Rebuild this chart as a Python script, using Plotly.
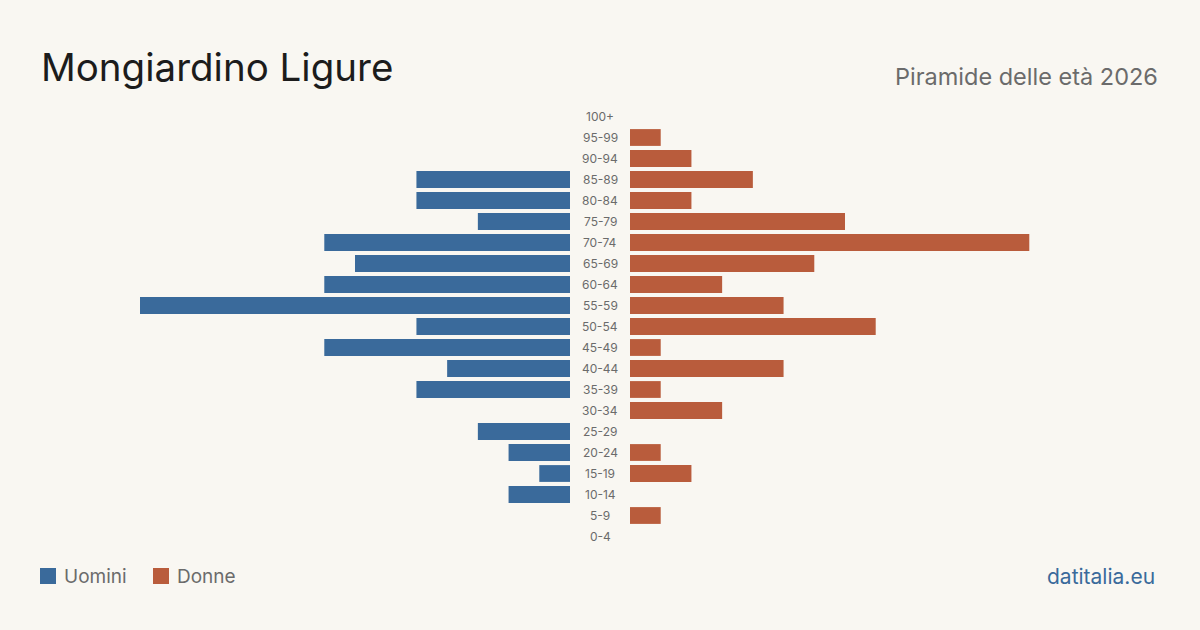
import plotly.graph_objects as go

ages = ["0-4", "5-9", "10-14", "15-19", "20-24", "25-29", "30-34", "35-39", "40-44", "45-49",
        "50-54", "55-59", "60-64", "65-69", "70-74", "75-79", "80-84", "85-89", "90-94", "95-99", "100+"]
uomini = [0, 0, 2, 1, 2, 3, 0, 5, 4, 8, 5, 14, 8, 7, 8, 3, 5, 5, 0, 0, 0]
donne = [0, 1, 0, 2, 1, 0, 3, 1, 5, 1, 8, 5, 3, 6, 13, 7, 2, 4, 2, 1, 0]

BLUE = "#3a6a9b"
RED = "#b95c3c"
BG = "#f9f7f2"
FONT = "Inter, Noto Sans, sans-serif"
W, H = 1200, 630

vmax = max(max(uomini), max(donne))

fig = go.Figure()
fig.add_trace(go.Bar(y=ages, x=uomini, orientation="h", marker=dict(color=BLUE, line=dict(width=0)),
                     name="Uomini", xaxis="x", yaxis="y", showlegend=False, hoverinfo="x+y"))
fig.add_trace(go.Bar(y=ages, x=donne, orientation="h", marker=dict(color=RED, line=dict(width=0)),
                     name="Donne", xaxis="x2", yaxis="y", showlegend=False, hoverinfo="x+y"))

y0 = 1 - 547 / H
y1 = 1 - 106 / H

annotations = []
for a in ages:
    annotations.append(dict(x=600 / W, y=a, xref="paper", yref="y", text=a, showarrow=False,
                            font=dict(family=FONT, size=12, color="#6b6b6b"), xanchor="center"))

annotations += [
    dict(x=39 / W, y=1 - 67 / H, xref="paper", yref="paper", text="Mongiardino Ligure", showarrow=False,
         xanchor="left", yanchor="middle", font=dict(family=FONT, size=38.5, color="#1c1c1c")),
    dict(x=1160 / W, y=1 - 76 / H, xref="paper", yref="paper", text="Piramide delle età 2026", showarrow=False,
         xanchor="right", yanchor="middle", font=dict(family=FONT, size=23.5, color="#6b6b6b")),
    dict(x=62 / W, y=1 - 576 / H, xref="paper", yref="paper", text="Uomini", showarrow=False,
         xanchor="left", yanchor="middle", font=dict(family=FONT, size=19, color="#6b6b6b")),
    dict(x=175 / W, y=1 - 576 / H, xref="paper", yref="paper", text="Donne", showarrow=False,
         xanchor="left", yanchor="middle", font=dict(family=FONT, size=19, color="#6b6b6b")),
    dict(x=1157 / W, y=1 - 576 / H, xref="paper", yref="paper", text="datitalia.eu", showarrow=False,
         xanchor="right", yanchor="middle", font=dict(family=FONT, size=21, color=BLUE)),
]

shapes = [
    dict(type="rect", xref="paper", yref="paper", x0=40 / W, x1=56 / W, y0=1 - 584 / H, y1=1 - 568 / H,
         fillcolor=BLUE, line_width=0),
    dict(type="rect", xref="paper", yref="paper", x0=153 / W, x1=169 / W, y0=1 - 584 / H, y1=1 - 568 / H,
         fillcolor=RED, line_width=0),
]

fig.update_layout(
    width=W, height=H,
    margin=dict(l=0, r=0, t=0, b=0),
    paper_bgcolor=BG, plot_bgcolor="rgba(0,0,0,0)",
    bargap=0.2,
    xaxis=dict(domain=[140 / W, 570 / W], range=[vmax, 0], visible=False, fixedrange=True),
    xaxis2=dict(domain=[630 / W, 1060 / W], range=[0, vmax], visible=False, fixedrange=True),
    yaxis=dict(domain=[y0, y1], type="category", categoryorder="array", categoryarray=ages,
               visible=False, range=[-0.5, len(ages) - 0.5]),
    annotations=annotations,
    shapes=shapes,
    font=dict(family=FONT),
)

fig.write_html("out.html")
